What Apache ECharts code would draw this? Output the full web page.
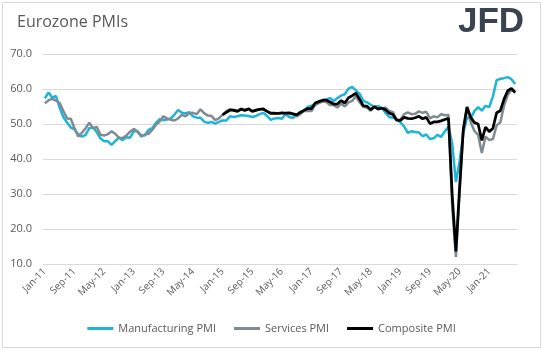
<!DOCTYPE html>
<html>
<head>
<meta charset="utf-8">
<script src="https://cdn.jsdelivr.net/npm/echarts@6/dist/echarts.min.js"></script>
<style>
  html, body { margin: 0; padding: 0; background: #fff; }
  #chart { width: 543px; height: 351px; }
</style>
</head>
<body>
<div id="chart"></div>
<script>
// month labels Jan-11 .. Aug-21
const monthNames = ['Jan','Feb','Mar','Apr','May','Jun','Jul','Aug','Sep','Oct','Nov','Dec'];
const years = ['11','12','13','14','15','16','17','18','19','20','21'];
const categories = [];
years.forEach(y => monthNames.forEach(m => categories.push(m + '-' + y)));
categories.length = 128; // ends Aug-21

const manufacturing = [
  57.3, 59.0, 57.5, 58.0, 54.6, 52.0, 50.4, 49.0, 48.5, 47.1, 46.4, 46.9,
  48.8, 49.0, 47.7, 45.9, 45.1, 45.1, 44.0, 45.1, 46.1, 45.4, 46.2, 46.1,
  47.9, 47.9, 46.8, 46.7, 48.3, 48.8, 50.3, 51.4, 51.1, 51.3, 51.6, 52.7,
  54.0, 53.2, 53.0, 53.4, 52.2, 51.8, 51.8, 50.7, 50.3, 50.6, 50.1, 50.6,
  51.0, 51.0, 52.2, 52.0, 52.2, 52.5, 52.4, 52.3, 52.0, 52.3, 52.8, 53.2,
  52.3, 51.2, 51.6, 51.7, 51.5, 52.8, 52.0, 51.7, 52.6, 53.5, 53.7, 54.9,
  55.2, 55.4, 56.2, 56.7, 57.0, 57.4, 56.6, 57.4, 58.1, 58.5, 60.1, 60.6,
  59.6, 58.6, 56.6, 56.2, 55.5, 54.9, 55.1, 54.6, 53.2, 52.0, 51.8, 51.4,
  50.5, 49.3, 47.5, 47.9, 47.7, 47.6, 46.5, 47.0, 45.7, 45.9, 46.9, 46.3,
  47.9, 49.2, 44.5, 33.4, 39.4, 47.4, 51.8, 51.7, 53.7, 54.8, 53.8, 55.2,
  54.8, 57.9, 62.5, 62.9, 63.1, 63.4, 62.8, 61.4
];

const services = [
  55.9, 56.8, 57.2, 56.7, 56.0, 53.7, 51.6, 51.5, 48.8, 46.4, 47.5, 48.8,
  50.4, 48.8, 49.2, 46.9, 46.7, 47.1, 47.9, 47.2, 46.1, 46.0, 46.7, 47.8,
  48.6, 47.9, 46.4, 47.0, 47.2, 48.3, 49.8, 50.7, 52.2, 51.6, 51.2, 51.0,
  51.6, 52.6, 52.2, 53.1, 53.2, 52.8, 54.2, 53.1, 52.4, 52.3, 51.1, 51.6,
  52.7, 53.7, 54.2, 54.1, 53.8, 54.4, 54.0, 54.4, 53.7, 54.1, 54.2, 54.2,
  53.6, 53.3, 53.1, 53.1, 53.3, 52.8, 52.9, 52.8, 52.2, 52.8, 53.8, 53.7,
  53.7, 55.5, 56.0, 56.4, 56.3, 55.4, 55.4, 54.7, 55.8, 55.0, 56.2, 56.6,
  58.0, 56.2, 54.9, 54.7, 53.8, 55.2, 54.2, 54.4, 54.7, 53.7, 53.4, 51.2,
  51.2, 52.8, 53.3, 52.8, 52.9, 53.6, 53.2, 53.5, 51.6, 52.2, 51.9, 52.8,
  52.5, 52.6, 26.4, 12.0, 30.5, 48.3, 54.7, 50.5, 48.0, 46.9, 41.7, 46.4,
  45.4, 45.7, 49.6, 50.5, 55.2, 58.3, 59.8, 59.0
];

// composite series starts Jan-15
const composite = [
  null, null, null, null, null, null, null, null, null, null, null, null,
  null, null, null, null, null, null, null, null, null, null, null, null,
  null, null, null, null, null, null, null, null, null, null, null, null,
  null, null, null, null, null, null, null, null, null, null, null, null,
  52.6, 53.3, 54.0, 53.9, 53.6, 54.2, 53.9, 54.3, 53.6, 53.9, 54.2, 54.3,
  53.6, 53.0, 53.1, 53.0, 53.1, 53.1, 53.2, 52.9, 52.6, 53.3, 53.9, 54.4,
  54.4, 56.0, 56.4, 56.8, 56.8, 56.3, 55.7, 55.7, 56.7, 56.0, 57.5, 58.1,
  58.8, 57.1, 55.2, 55.1, 54.1, 54.9, 54.3, 54.5, 54.1, 53.1, 52.7, 51.1,
  51.0, 51.9, 51.6, 51.5, 51.8, 52.2, 51.5, 51.9, 50.1, 50.6, 50.6, 50.9,
  51.3, 51.6, 29.7, 13.6, 31.9, 48.5, 54.9, 51.9, 50.4, 50.0, 45.3, 49.1,
  47.8, 48.8, 53.2, 53.8, 57.1, 59.5, 60.2, 59.0
];

const chart = echarts.init(document.getElementById('chart'));
const textColor = '#595959';
const fontFamily = '"Open Sans", "Liberation Sans", sans-serif';

chart.setOption({
  animation: false,
  backgroundColor: '#fff',
  title: {
    text: 'Eurozone PMIs',
    left: 12,
    top: 9,
    textStyle: { color: textColor, fontSize: 16, fontWeight: 'normal', fontFamily: fontFamily }
  },
  graphic: [
    {
      type: 'rect',
      shape: { x: 2.5, y: 2.5, width: 538, height: 345 },
      style: { fill: 'none', stroke: '#d9d9d9', lineWidth: 1 },
      silent: true
    },
    {
      type: 'text',
      left: 458,
      top: 5,
      style: {
        text: 'JFD',
        fill: '#3a4451',
        font: 'bold 35px "Liberation Sans", Arial, sans-serif'
      }
    }
  ],
  legend: {
    bottom: 12,
    left: 'center',
    itemWidth: 26,
    itemHeight: 3,
    itemGap: 18,
    icon: 'rect',
    textStyle: { color: textColor, fontSize: 11, fontFamily: fontFamily },
    data: ['Manufacturing PMI', 'Services PMI', 'Composite PMI']
  },
  grid: { left: 43, right: 26, top: 54, bottom: 87 },
  xAxis: {
    type: 'category',
    data: categories,
    boundaryGap: true,
    axisLine: { lineStyle: { color: '#d9d9d9' } },
    axisTick: { alignWithLabel: true, interval: 7, length: 4, lineStyle: { color: '#d9d9d9' } },
    axisLabel: {
      interval: 7,
      rotate: 45,
      color: textColor,
      fontSize: 10,
      fontFamily: fontFamily,
      margin: 6
    }
  },
  yAxis: {
    type: 'value',
    min: 10,
    max: 70,
    interval: 10,
    axisLine: { show: false },
    axisTick: { show: false },
    splitLine: { lineStyle: { color: '#d9d9d9' } },
    axisLabel: {
      color: textColor,
      fontSize: 11,
      fontFamily: fontFamily,
      margin: 11,
      formatter: v => v.toFixed(1)
    }
  },
  series: [
    {
      name: 'Manufacturing PMI',
      type: 'line',
      data: manufacturing,
      symbol: 'none',
      lineStyle: { color: '#1cb4d8', width: 2.5 },
      itemStyle: { color: '#1cb4d8' }
    },
    {
      name: 'Services PMI',
      type: 'line',
      data: services,
      symbol: 'none',
      lineStyle: { color: '#7f8b92', width: 2.5 },
      itemStyle: { color: '#7f8b92' }
    },
    {
      name: 'Composite PMI',
      type: 'line',
      data: composite,
      symbol: 'none',
      lineStyle: { color: '#000000', width: 2.75 },
      itemStyle: { color: '#000000' }
    }
  ]
});
</script>
</body>
</html>
